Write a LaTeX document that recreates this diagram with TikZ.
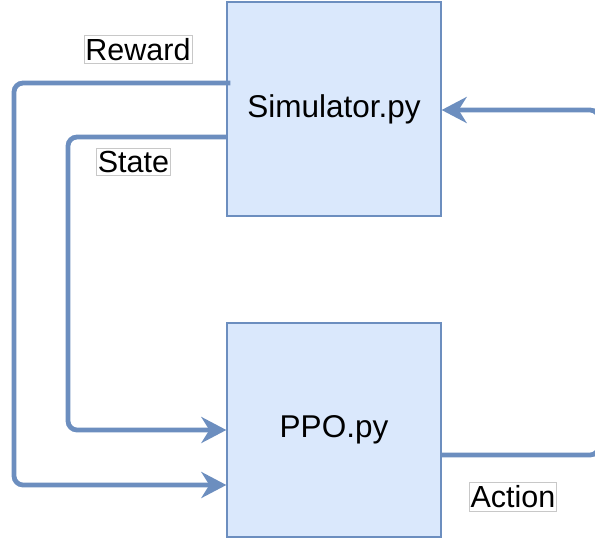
\documentclass[tikz,border=0pt]{standalone}
\usepackage{fontspec}
\setmainfont{Liberation Sans}
\usetikzlibrary{arrows.meta,calc}
\definecolor{boxfill}{HTML}{DAE8FC}
\definecolor{boxline}{HTML}{6C8EBF}
\definecolor{labelline}{HTML}{C8C8C8}
\tikzset{
  module/.style={draw=boxline, fill=boxfill, line width=1.3pt, minimum width=214pt,
    minimum height=214pt, inner sep=0pt, font=\fontsize{31.5}{35}\selectfont, text=black},
  flow/.style={draw=boxline, line width=4.8pt, rounded corners=9pt,
    -{Stealth[length=25pt,width=26pt,inset=8pt]}},
  tag/.style={draw=labelline, fill=white, line width=0.8pt, inner xsep=1.5pt, inner ysep=3pt,
    font=\fontsize{30.5}{34}\selectfont, text=black}
}
\begin{document}
\begin{tikzpicture}[x=1pt,y=1pt]
  \useasboundingbox (0,0) rectangle (595,-541);
  \node[module] (sim) at (334,-109) {Simulator.py};
  \node[module] (ppo) at (334,-430) {PPO.py};

  % Reward: from the simulator, round the far left, into the agent
  \draw[flow] ($(sim.west)+(4,26)$) -| (14,-300) |- ($(ppo.west)+(0,-55)$);
  % State: inner loop on the left
  \draw[flow] ($(sim.west)+(0,-28)$) -| (68,-300) |- (ppo.west);
  % Action: out of the agent, round the right edge, back into the simulator
  \begin{scope}
    \clip (0,0) rectangle (595,-541);
    \draw[flow] ($(ppo.east)+(0,-25)$) -| (599,-300) |- ($(sim.east)+(0,-1)$);
  \end{scope}

  \node[tag] (rw) at (138,-49.5) {Reward};
  \node[tag] (st) at (133.5,-162) {State};
  \node[tag] (ac) at (513,-497) {Action};
\end{tikzpicture}
\end{document}
